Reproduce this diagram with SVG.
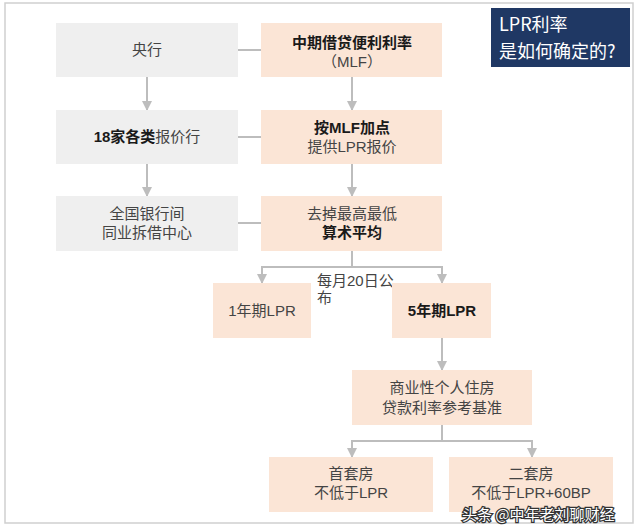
<svg xmlns="http://www.w3.org/2000/svg" width="640" height="532" viewBox="0 0 640 532">
<defs>
<marker id="ah" markerUnits="userSpaceOnUse" markerWidth="10" markerHeight="10" viewBox="0 0 10 10" refX="9" refY="5" orient="auto">
<path d="M0,0 L10,5 L0,10 z" fill="#bdbdbd"/>
</marker>
</defs>
<style>
.frame{fill:#ffffff;stroke:#cfcfcf;stroke-width:1.5}
.g{fill:#efefef}
.p{fill:#fbe5d6}
.t{font-family:"Liberation Sans","Noto Sans CJK SC",sans-serif;font-size:15px;fill:#444;text-anchor:middle}
.b{font-weight:bold;fill:#1a1a1a}
.c{fill:none;stroke:#bdbdbd;stroke-width:2}
.title{font-family:"Noto Sans CJK SC",sans-serif;font-size:18px;fill:#ffffff}
.wm{font-family:"Noto Sans CJK SC",sans-serif;font-size:15px;fill:#ffffff;stroke:#333;stroke-width:2.5;paint-order:stroke}
</style>
<rect x="0" y="0" width="640" height="532" fill="#ffffff"/>
<rect class="frame" x="5" y="3" width="628" height="520"/>

<g id="connectors">
<path class="c" d="M238,50 H261"/>
<path class="c" d="M238,137 H261"/>
<path class="c" d="M238,223 H261"/>
<path class="c" d="M147,77 V110" marker-end="url(#ah)"/>
<path class="c" d="M147,164 V196" marker-end="url(#ah)"/>
<path class="c" d="M352,77 V110" marker-end="url(#ah)"/>
<path class="c" d="M352,164 V196" marker-end="url(#ah)"/>
<path class="c" d="M352,251 V267"/>
<path class="c" d="M352,267 H262 V283" marker-end="url(#ah)"/>
<path class="c" d="M352,267 H442 V283" marker-end="url(#ah)"/>
<path class="c" d="M442,338 V370" marker-end="url(#ah)"/>
<path class="c" d="M442,425 V441"/>
<path class="c" d="M442,441 H352 V457" marker-end="url(#ah)"/>
<path class="c" d="M442,441 H532 V457" marker-end="url(#ah)"/>
</g>

<g id="n-yanghang">
<rect class="g" x="56" y="23" width="182" height="54"/>
<text class="t" x="147" y="55">央行</text>
</g>
<g id="n-mlf">
<rect class="p" x="261" y="23" width="181" height="54"/>
<text class="t b" x="352" y="48">中期借贷便利利率</text>
<text class="t" x="352" y="67">（MLF）</text>
</g>
<g id="n-title">
<rect x="491" y="8" width="139" height="59" fill="#1f3864"/>
<text class="title" x="499" y="31">LPR利率</text>
<text class="title" x="499" y="58">是如何确定的?</text>
</g>
<g id="n-18banks">
<rect class="g" x="56" y="110" width="182" height="54"/>
<text class="t" x="147" y="142"><tspan class="b">18家各类</tspan>报价行</text>
</g>
<g id="n-quote">
<rect class="p" x="261" y="110" width="181" height="54"/>
<text class="t b" x="352" y="133">按MLF加点</text>
<text class="t" x="352" y="152">提供LPR报价</text>
</g>
<g id="n-center">
<rect class="g" x="56" y="196" width="182" height="55"/>
<text class="t" x="147" y="219">全国银行间</text>
<text class="t" x="147" y="238">同业拆借中心</text>
</g>
<g id="n-avg">
<rect class="p" x="261" y="196" width="181" height="55"/>
<text class="t" x="352" y="219">去掉最高最低</text>
<text class="t b" x="352" y="238">算术平均</text>
</g>
<g id="label-publish">
<text class="t" x="317" y="286" style="text-anchor:start">每月20日公</text>
<text class="t" x="317" y="303" style="text-anchor:start">布</text>
</g>
<g id="n-1y">
<rect class="p" x="213" y="283" width="98" height="55"/>
<text class="t" x="262" y="316">1年期LPR</text>
</g>
<g id="n-5y">
<rect class="p" x="392" y="283" width="99" height="55"/>
<text class="t b" x="442" y="316">5年期LPR</text>
</g>
<g id="n-mortgage">
<rect class="p" x="352" y="370" width="180" height="55"/>
<text class="t" x="442" y="393">商业性个人住房</text>
<text class="t" x="442" y="413">贷款利率参考基准</text>
</g>
<g id="n-first">
<rect class="p" x="269" y="457" width="164" height="55"/>
<text class="t" x="351" y="479">首套房</text>
<text class="t" x="351" y="498">不低于LPR</text>
</g>
<g id="n-second">
<rect class="p" x="449" y="457" width="164" height="55"/>
<text class="t" x="531" y="479">二套房</text>
<text class="t" x="531" y="498">不低于LPR+60BP</text>
</g>
<text class="wm" x="462" y="520">头条 @中年老刘聊财经</text>
</svg>
